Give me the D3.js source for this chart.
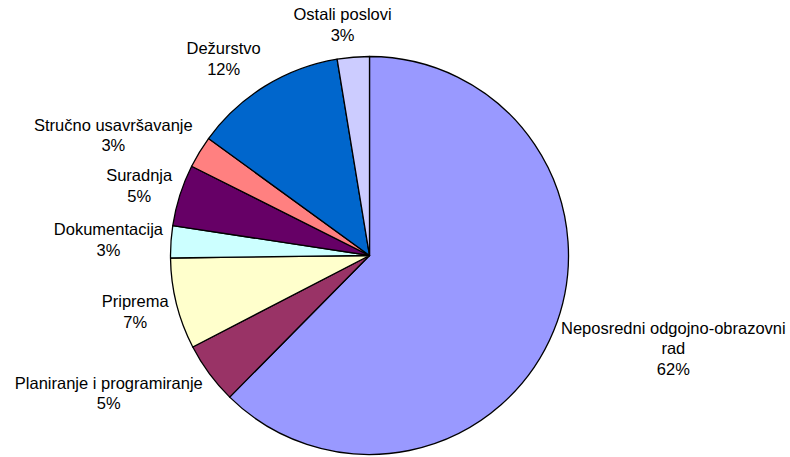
<!DOCTYPE html>
<html><head><meta charset="utf-8">
<script src="https://cdn.jsdelivr.net/npm/d3@7/dist/d3.min.js"></script>
<style>body{margin:0;background:#fff}svg{display:block}text{font-family:Arial,"Liberation Sans",sans-serif;font-size:16.5px;fill:#000}</style>
</head><body><svg id="c" width="790" height="457"></svg>
<script>
const categories = ["Neposredni odgojno-obrazovni rad","Planiranje i programiranje","Priprema","Dokumentacija","Suradnja","Stručno usavršavanje","Dežurstvo","Ostali poslovi"];
const values = [62.4, 5.0, 7.4, 2.6, 5.0, 2.6, 12.4, 2.6];
const colors = ["#9999FF","#993366","#FFFFCC","#CCFFFF","#660066","#FF8080","#0066CC","#CCCCFF"];

const W = 790, H = 457, cx = 369.5, cy = 255.5, R = 199;
const svg = d3.select("#c");
const total = d3.sum(values);
const data = categories.map((c,i)=>({name:c, value:values[i], color:colors[i]}));
const pie = d3.pie().value(d=>d.value).sort(null).startAngle(0).endAngle(2*Math.PI);
const arcs = pie(data);
const arc = d3.arc().innerRadius(0).outerRadius(R);
const g = svg.append("g").attr("transform",`translate(${cx},${cy})`);
g.selectAll("path").data(arcs).join("path")
  .attr("d",arc).attr("fill",d=>d.data.color)
  .attr("stroke","#000").attr("stroke-width",1.3).attr("stroke-linejoin","round");

// labels
const lineH = 20.5, maxW = 240, gap = 8;
const meas = svg.append("text").attr("visibility","hidden");
function tw(s){ meas.text(s); return meas.node().getComputedTextLength(); }
arcs.forEach(a=>{
  const words = a.data.name.split(" ");
  const lines = []; let cur = "";
  words.forEach(w=>{ const t = cur ? cur+" "+w : w; if (cur && tw(t) > maxW){ lines.push(cur); cur = w; } else cur = t; });
  lines.push(cur);
  lines.push(Math.round(a.data.value/total*100) + "%");
  const w = d3.max(lines, tw), h = lines.length*lineH;
  const m = (a.startAngle+a.endAngle)/2, s = Math.sin(m), c = Math.cos(m);
  const px = cx + (R+gap)*s, py = cy - (R+gap)*c;
  const bx = px + (w/2)*Math.max(-1, Math.min(1, s*2.5));
  const by = py - (h/2)*c*1.2;
  const t = svg.append("text").attr("text-anchor","middle");
  lines.forEach((l,i)=>{
    t.append("tspan").attr("x",bx).attr("y", by - h/2 + lineH*(i+0.5)).attr("dominant-baseline","central").text(l);
  });
});
meas.remove();
</script></body></html>
